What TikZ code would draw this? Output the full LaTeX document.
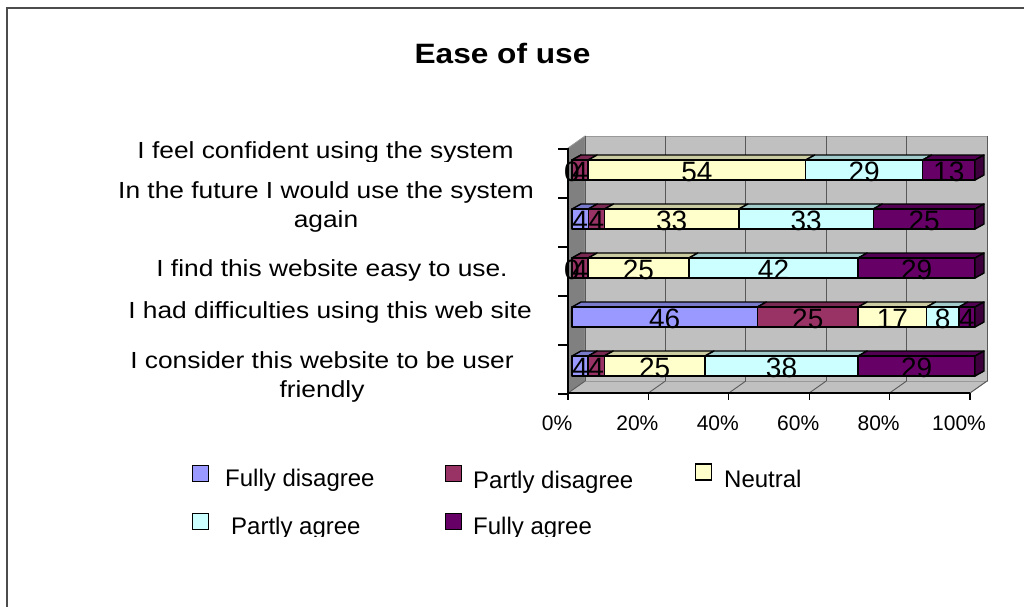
\documentclass[tikz,border=0pt]{standalone}
\usepackage{fontspec}
\setmainfont{Liberation Sans}
\newfontfamily\widesans[FakeStretch=1.13]{Liberation Sans}
\usetikzlibrary{calc}

\definecolor{fdis}{HTML}{9999FF}
\definecolor{pdis}{HTML}{993366}
\definecolor{neut}{HTML}{FFFFCC}
\definecolor{pagr}{HTML}{CCFFFF}
\definecolor{fagr}{HTML}{660066}
\definecolor{wallgray}{HTML}{C0C0C0}
\definecolor{sidegray}{HTML}{808080}

% row / total / answers (fully disagree ... fully agree)
\def\surveydata{1/100/{0,4,54,29,13}, 2/99/{4,4,33,33,25}, 3/100/{0,4,25,42,29},
  4/100/{46,25,17,8,4}, 5/100/{4,4,25,38,29}}

\begin{document}
\begin{tikzpicture}[x=1pt, y=-1pt,
	frame/.style = {draw=black!70, line width=1.2pt},
	wall/.style = {fill=wallgray, draw=black!40, line width=0.8pt},
	gridln/.style = {draw=black!65, line width=0.9pt},
	axis/.style = {draw=black, line width=1.2pt},
	seg/.style = {draw=black, line width=1.4pt, line join=round},
	val/.style = {font=\fontsize{28}{28}\selectfont, inner sep=0pt},
	cat/.style = {font=\widesans\fontsize{23.3}{28.5}\selectfont, align=center, inner sep=0pt, anchor=base},
	pct/.style = {font=\fontsize{21}{21}\selectfont, inner sep=0pt, anchor=base},
	key/.style = {draw=black, line width=1.6pt, minimum size=16pt, inner sep=0pt},
	keylab/.style = {font=\fontsize{24}{24}\selectfont, inner sep=0pt, anchor=base west}
]
\useasboundingbox (0,0) rectangle (1024,606);

% outer frame of the chart area
\draw[frame] (1030,8) -- (7,8) -- (7,612);

% title
\node[font=\widesans\bfseries\fontsize{28}{28}\selectfont, inner sep=0pt, anchor=base] (title) at (502.5,63) {Ease of use};

% walls of the 3d plot
\coordinate (F0) at (568,393);
\coordinate (F1) at (970,393);
\coordinate (B0) at (585,381);
\coordinate (B1) at (987,381);
\draw[wall] (F0) -- (F1) -- (B1) -- (B0) -- cycle;
\draw[wall, fill=sidegray] (568,148) -- (585,136) -- (B0) -- (F0) -- cycle;
\draw[wall] (585,136) rectangle (B1);
\foreach \k in {0,...,5} {
  \draw[gridln] (585+80.4*\k,136) -- (585+80.4*\k,381);
  \draw[gridln] (568+80.4*\k,393) -- (585+80.4*\k,381);
}

% axes and ticks
\draw[axis] (568,148) -- (F0) -- (F1);
\foreach \k in {0,...,5} {
  \draw[axis] (558,149+49*\k) -- (568,149+49*\k);
  \draw[axis] (568+80.4*\k,393) -- (568+80.4*\k,400);
}
\foreach \p [count=\k from 0] in {0,20,40,60,80,100}
  \node[pct] (p\k) at (557+80.4*\k,430) {\p\%};

% stacked bars, one row per statement
\foreach \r/\tot/\vals in \surveydata {
  \pgfmathsetmacro\yc{170+49*(\r-1)}
  \gdef\cum{0}
  \foreach \v [count=\k] in \vals {
    \pgfmathsetmacro\xa{572+403*(\cum/\tot)}
    \pgfmathsetmacro\nc{\cum+\v}
    \xdef\cum{\nc}
    \pgfmathsetmacro\xb{572+403*(\cum/\tot)}
    \pgfmathparse{{"fdis","pdis","neut","pagr","fagr"}[\k-1]}
    \edef\segcol{\pgfmathresult}
    \draw[seg, fill=\segcol!80!black] (\xa,\yc-10) -- ++(9,-5) -- (\xb+9,\yc-15) -- (\xb,\yc-10) -- cycle;
    \draw[seg, fill=\segcol] (\xa,\yc-10) rectangle (\xb,\yc+10);
    \coordinate (m\r-\k) at ({(\xa+\xb)/2},\yc);
  }
  % end face of the row
  \draw[seg, fill=fagr!60!black] (975,\yc-10) -- ++(9,-5) -- ++(0,20) -- (975,\yc+10) -- cycle;
  \foreach \v [count=\k] in \vals
    \node[val] (v\r-\k) at ($(m\r-\k)+(0,1.5)$) {\v};
}

% statements (base of a two-line label is its last line)
\begin{scope}
  \clip (100,120) rectangle (560,161);
  \node[cat] (cat1) at (325.5,158.5) {I feel confident using the system};
\end{scope}
\node[cat] (cat2) at (326,227) {In the future I would use the system\\again};
\node[cat] (cat3) at (332,276) {I find this website easy to use.};
\node[cat] (cat4) at (330,318) {I had difficulties using this web site};
\node[cat] (cat5) at (322,397) {I consider this website to be user\\friendly};

% legend
\begin{scope}
  \clip (150,440) rectangle (850,536.5);
  \foreach \n/\col/\x/\y/\tx/\ty/\txt in {
      1/fdis/200.5/473.5/225/486/Fully disagree,
      2/pdis/453.5/473.5/473/488/Partly disagree,
      3/neut/703.5/472/724/487/Neutral,
      4/pagr/200.5/521.5/231/534/Partly agree,
      5/fagr/453.5/521.5/473/534/Fully agree} {
    \node[key, fill=\col] (key\n) at (\x,\y) {};
    \node[keylab] (keylab\n) at (\tx,\ty) {\txt};
  }
\end{scope}

\end{tikzpicture}
\end{document}
